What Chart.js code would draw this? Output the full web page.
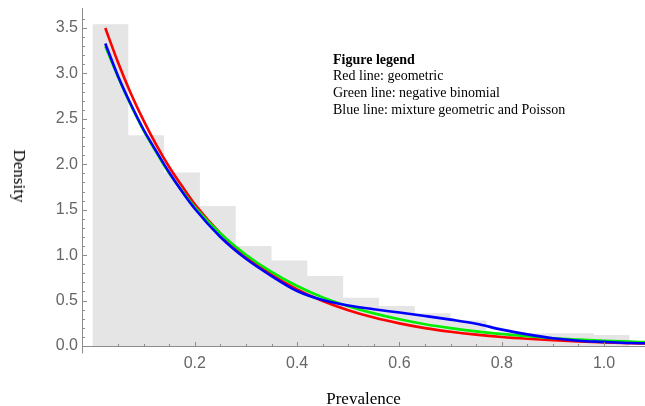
<!DOCTYPE html>
<html><head><meta charset="utf-8">
<script src="https://cdn.jsdelivr.net/npm/chart.js@4.4.1/dist/chart.umd.min.js"></script>
<style>
html,body{margin:0;padding:0;background:#fff;}
#wrap{position:relative;width:645px;height:406px;overflow:hidden;}
canvas{display:block;}
#ylab{position:absolute;left:19px;top:176px;font-family:"Liberation Serif","Times New Roman",serif;font-size:17px;color:#000;transform:translate(-50%,-50%) rotate(90deg);white-space:nowrap;}
#legend{position:absolute;left:333px;top:51.5px;font-family:"Liberation Serif","Times New Roman",serif;font-size:14px;line-height:16.7px;color:#000;white-space:nowrap;}
</style></head>
<body><div id="wrap"><canvas id="c" width="645" height="406"></canvas>
<div id="ylab">Density</div>
<div id="legend"><b>Figure legend</b><br>Red line: geometric<br>Green line: negative binomial<br>Blue line: mixture geometric and Poisson</div></div>
<script>
const binEdges = [0, 0.07, 0.14, 0.21, 0.28, 0.35, 0.42, 0.49, 0.56, 0.63, 0.70, 0.77, 0.84, 0.91, 0.98, 1.05];
const binHeights = [3.54, 2.32, 1.91, 1.54, 1.10, 0.94, 0.77, 0.53, 0.44, 0.36, 0.28, 0.15, 0.14, 0.14, 0.12];
const curveX = [0.025,0.05,0.075,0.1,0.125,0.15,0.175,0.2,0.25,0.3,0.35,0.4,0.45,0.5,0.55,0.6,0.65,0.7,0.75,0.8,0.85,0.9,0.95,1.0,1.05,1.08];
const geometric = [3.50,3.12,2.78,2.48,2.21,1.97,1.76,1.56,1.24,0.99,0.785,0.624,0.496,0.394,0.313,0.249,0.197,0.157,0.125,0.099,0.079,0.063,0.050,0.040,0.031,0.027];
const negBinomial = [3.30,2.96,2.65,2.37,2.13,1.90,1.71,1.53,1.24,1.005,0.815,0.66,0.535,0.438,0.359,0.294,0.240,0.197,0.161,0.132,0.108,0.085,0.070,0.058,0.048,0.043];
const mixture = [3.33,2.97,2.66,2.38,2.14,1.91,1.70,1.51,1.20,0.96,0.77,0.605,0.505,0.445,0.405,0.368,0.33,0.29,0.245,0.18,0.128,0.085,0.058,0.045,0.033,0.030];
const xTickLabels = [0.2, 0.4, 0.6, 0.8, 1.0];
const yTickLabels = [0.0, 0.5, 1.0, 1.5, 2.0, 2.5, 3.0, 3.5];

const histData = binEdges.map((e, i) => ({x: e, y: binHeights[Math.min(i, binHeights.length - 1)]}));
const pts = arr => curveX.map((x, i) => ({x: x, y: arr[i]}));
const near = (v, list) => list.some(t => Math.abs(v - t) < 1e-6);

const axesPlugin = {
  id: 'mmaAxes',
  afterDatasetsDraw(chart) {
    const {ctx, scales: {x, y}, chartArea} = chart;
    const x0 = Math.round(chartArea.left) + 0.5;
    const y0 = Math.round(y.getPixelForValue(0)) + 0.5;
    ctx.save();
    ctx.strokeStyle = '#8c8c8c';
    ctx.lineWidth = 1;
    ctx.beginPath();
    ctx.moveTo(x0, chartArea.top); ctx.lineTo(x0, y0 + 7);
    ctx.moveTo(x0, y0); ctx.lineTo(chartArea.right, y0);
    x.ticks.forEach(t => {
      const v = t.value;
      if (v < -1e-9) return;
      const k = Math.round(v / 0.05);
      if (Math.abs(v - k * 0.05) > 1e-6) return;
      const px = Math.round(x.getPixelForValue(v)) + 0.5;
      ctx.moveTo(px, y0); ctx.lineTo(px, y0 - (k % 4 === 0 ? 4.5 : 2.5));
    });
    y.ticks.forEach(t => {
      const v = t.value;
      const k = Math.round(v / 0.1);
      if (Math.abs(v - k * 0.1) > 1e-6 || k === 0) return;
      const py = Math.round(y.getPixelForValue(v)) + 0.5;
      ctx.moveTo(x0, py); ctx.lineTo(x0 + (k % 5 === 0 ? 4.5 : 2.5), py);
    });
    ctx.stroke();
    ctx.restore();
  }
};

const tickFont = {family: '"Liberation Sans", Arial, sans-serif', size: 16};

new Chart(document.getElementById('c'), {
  type: 'line',
  data: {
    datasets: [
      {label: 'mixture geometric and Poisson', data: pts(mixture), borderColor: '#0000ff', borderWidth: 2.6, pointRadius: 0, cubicInterpolationMode: 'monotone', fill: false, order: 0},
      {label: 'negative binomial', data: pts(negBinomial), borderColor: '#00ee00', borderWidth: 2.6, pointRadius: 0, cubicInterpolationMode: 'monotone', fill: false, order: 1},
      {label: 'geometric', data: pts(geometric), borderColor: '#ff0000', borderWidth: 2.6, pointRadius: 0, cubicInterpolationMode: 'monotone', fill: false, order: 2},
      {label: 'histogram', data: histData, stepped: 'before', borderColor: 'rgba(0,0,0,0)', backgroundColor: '#e5e5e5', borderWidth: 1, pointRadius: 0, fill: 'origin', order: 3}
    ]
  },
  options: {
    responsive: false,
    animation: false,
    layout: {padding: {top: 8, right: 0, left: 0, bottom: 0}},
    plugins: {legend: {display: false}, tooltip: {enabled: false}},
    scales: {
      x: {
        type: 'linear', min: -0.0205, max: 1.08,
        grid: {display: false, drawTicks: false},
        border: {display: false},
        ticks: {
          stepSize: 0.05, autoSkip: false, maxRotation: 0, minRotation: 0, padding: 8,
          color: '#666', font: tickFont,
          callback: v => near(v, xTickLabels) ? v.toFixed(1) : ''
        },
        title: {display: true, text: 'Prevalence', color: '#000', font: {family: '"Liberation Serif", "Times New Roman", serif', size: 17}, padding: {top: 0, bottom: -4}},
        afterFit: s => { s.height = 60; s.paddingLeft = 0; s.paddingRight = 0; }
      },
      y: {
        type: 'linear', min: 0, max: 3.72,
        grid: {display: false, drawTicks: false},
        border: {display: false},
        ticks: {
          stepSize: 0.1, autoSkip: false, padding: 4,
          color: '#666', font: tickFont,
          callback: v => near(v, yTickLabels) ? v.toFixed(1) : ''
        },
        afterFit: s => { s.width = 82; s.paddingTop = 0; s.paddingBottom = 0; }
      }
    }
  },
  plugins: [axesPlugin]
});
</script>
</body></html>
